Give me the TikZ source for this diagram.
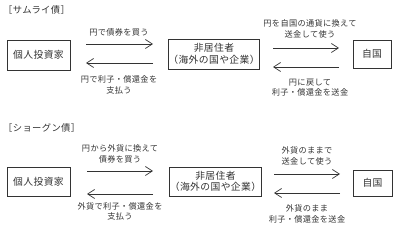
\documentclass[tikz,border=0pt]{standalone}
\usepackage{fontspec}
\setmainfont{Noto Sans CJK JP}[LetterSpace=4]
\usetikzlibrary{arrows.meta}
\definecolor{ink}{HTML}{333333}
\tikzset{
  box/.style={draw=ink, line width=0.8pt, text=ink, font=\fontsize{9.8}{11.5}\selectfont, align=center, inner sep=0pt},
  lbl/.style={text=ink, font=\fontsize{8.2}{10.5}\selectfont, align=center, inner sep=0pt},
  ttl/.style={text=ink, font=\fontsize{9.3}{11}\selectfont, anchor=west, inner sep=0pt},
  flow/.style={draw=ink, line width=0.8pt, -{Straight Barb[length=7pt,width=9pt,line width=0.7pt]}}
}
\begin{document}
\begin{tikzpicture}[x=1pt,y=-1pt]
\useasboundingbox (0,0) rectangle (400,230);
% top section
\node[ttl] (t1) at (3,10) {［サムライ債］};
\node[box, minimum width=63pt, minimum height=30pt] (a1) at (38.5,55) {個人投資家};
\node[box, minimum width=90pt, minimum height=30pt] (b1) at (214,54) {非居住者\\（海外の国や企業）};
\node[box, minimum width=38pt, minimum height=28pt] (c1) at (372,54) {自国};
\coordinate (a1r1) at (86,44); \coordinate (b1l1) at (153,44);
\coordinate (a1r2) at (86,63); \coordinate (b1l2) at (153,63);
\draw[flow] (a1r1) -- (b1l1);
\draw[flow] (b1l2) -- (a1r2);
\coordinate (b1r1) at (273,48); \coordinate (c1l1) at (339,48);
\coordinate (b1r2) at (273,67); \coordinate (c1l2) at (339,67);
\draw[flow] (b1r1) -- (c1l1);
\draw[flow] (c1l2) -- (b1r2);
\node[lbl] (l1) at (119,32) {円で債券を買う};
\node[lbl] (l2) at (119,85) {円で利子・償還金を\\支払う};
\node[lbl] (l3) at (310,29) {円を自国の通貨に換えて\\送金して使う};
\node[lbl] (l4) at (310,87.5) {円に戻して\\利子・償還金を送金};
% bottom section
\node[ttl] (t2) at (3,128) {［ショーグン債］};
\node[box, minimum width=63pt, minimum height=29pt] (a2) at (38.5,181.5) {個人投資家};
\node[box, minimum width=91pt, minimum height=29pt] (b2) at (215.5,181.5) {非居住者\\（海外の国や企業）};
\node[box, minimum width=39pt, minimum height=26pt] (c2) at (372.5,183) {自国};
\coordinate (a2r1) at (87,171); \coordinate (b2l1) at (153,171);
\coordinate (a2r2) at (87,194); \coordinate (b2l2) at (153,194);
\draw[flow] (a2r1) -- (b2l1);
\draw[flow] (b2l2) -- (a2r2);
\coordinate (b2r1) at (274,174); \coordinate (c2l1) at (340,174);
\coordinate (b2r2) at (274,193); \coordinate (c2l2) at (340,193);
\draw[flow] (b2r1) -- (c2l1);
\draw[flow] (c2l2) -- (b2r2);
\node[lbl] (l5) at (120,154) {円から外貨に換えて\\債券を買う};
\node[lbl] (l6) at (120,211.5) {外貨で利子・償還金を\\支払う};
\node[lbl] (l7) at (307,156) {外貨のままで\\送金して使う};
\node[lbl] (l8) at (307,214) {外貨のまま\\利子・償還金を送金};
\end{tikzpicture}
\end{document}
